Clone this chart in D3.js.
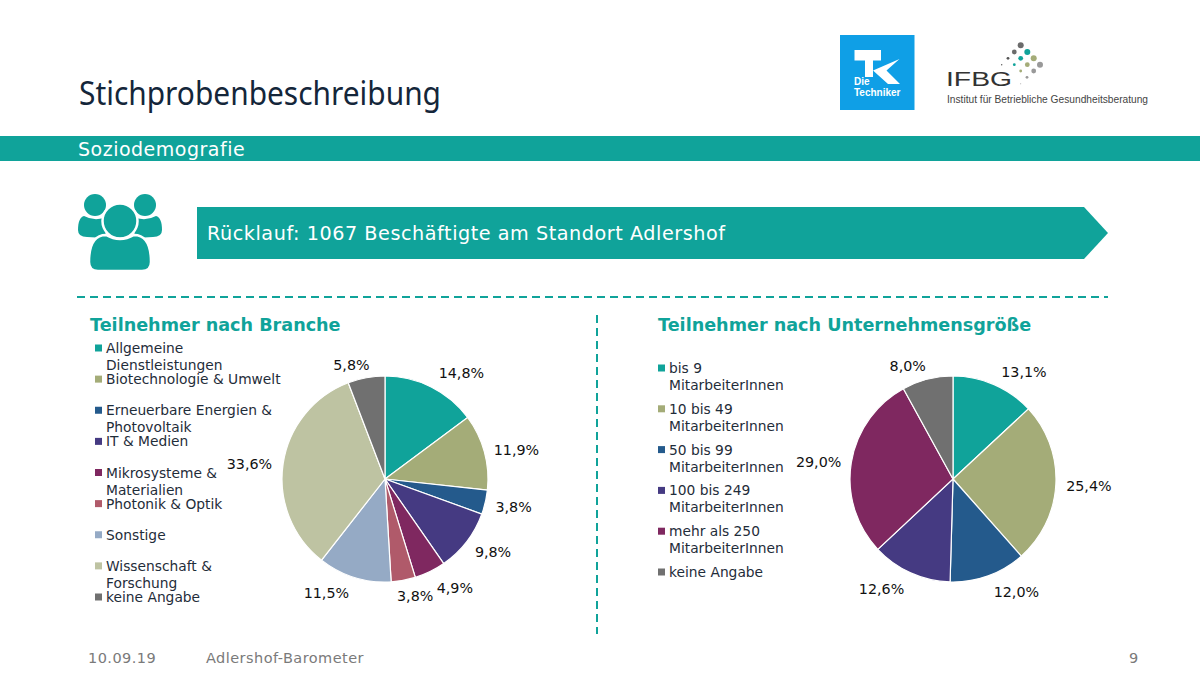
<!DOCTYPE html>
<html lang="de">
<head>
<meta charset="utf-8">
<title>Stichprobenbeschreibung</title>
<script src="https://cdn.jsdelivr.net/npm/d3@7"></script>
<style>
	body { margin: 0; background: #fff; }
	svg { display: block; }
	text { font-family: "DejaVu Sans", sans-serif; }
</style>
</head>
<body>
<div id="slide"></div>
<script>
// Left pie: Teilnehmer nach Branche
const branche_names = [
	["Allgemeine", "Dienstleistungen"],
	["Biotechnologie & Umwelt"],
	["Erneuerbare Energien &", "Photovoltaik"],
	["IT & Medien"],
	["Mikrosysteme &", "Materialien"],
	["Photonik & Optik"],
	["Sonstige"],
	["Wissenschaft &", "Forschung"],
	["keine Angabe"]
];
const branche_values = [14.8, 11.9, 3.8, 9.8, 4.9, 3.8, 11.5, 33.6, 5.8];

// Right pie: Teilnehmer nach Unternehmensgröße
const groesse_names = [
	["bis 9", "MitarbeiterInnen"],
	["10 bis 49", "MitarbeiterInnen"],
	["50 bis 99", "MitarbeiterInnen"],
	["100 bis 249", "MitarbeiterInnen"],
	["mehr als 250", "MitarbeiterInnen"],
	["keine Angabe"]
];
const groesse_values = [13.1, 25.4, 12.0, 12.6, 29.0, 8.0];

const branche_colors = ["#10a39a", "#a4ac78", "#245a8c", "#453a82", "#7f2860", "#b05a6a", "#95aac5", "#bec3a2", "#707070"];
const groesse_colors = ["#10a39a", "#a4ac78", "#245a8c", "#453a82", "#7f2860", "#707070"];

// hand placed labels in the slide, offset from the outer label ring
const branche_nudge = [[18, 10], [6, 5], [2, -2], [5, -6], [13, -8], [7, -11], [-20, -10], [-7, 4], [-10, 14]];
const groesse_nudge = [[19, 12], [6, 1], [19, -9], [-18, -9], [-6, 3], [-13, 13]];

const canvas_width = 1200;
const canvas_height = 700;
const teal = "#10a39a";
const text_color = "#1f2d3a";
const pie_radius = 103;
const label_radius = 130;

const slide = d3.select("#slide").append("svg")
	.attr("width", canvas_width)
	.attr("height", canvas_height)
	.attr("viewBox", `0 0 ${canvas_width} ${canvas_height}`);

// header
slide.append("text")
	.attr("x", 79)
	.attr("y", 104.5)
	.attr("font-size", 32)
	.attr("fill", "#14263a")
	.attr("textLength", 362)
	.attr("lengthAdjust", "spacingAndGlyphs")
	.style("font-family", "Noto Sans")
	.text("Stichprobenbeschreibung");

slide.append("rect")
	.attr("x", 0)
	.attr("y", 136)
	.attr("width", canvas_width)
	.attr("height", 25)
	.attr("fill", teal);

slide.append("text")
	.attr("x", 78)
	.attr("y", 156)
	.attr("font-size", 19)
	.attr("letter-spacing", 0.5)
	.attr("fill", "#fff")
	.text("Soziodemografie");

// TK logo
const tk_logo = slide.append("g");
tk_logo.append("rect")
	.attr("x", 840)
	.attr("y", 35)
	.attr("width", 74.5)
	.attr("height", 75)
	.attr("fill", "#0f9fe6");
tk_logo.append("path")
	.attr("fill", "#fff")
	.attr("d", "M854.5 50 H881 V60.5 H873 V77 H865 V60.5 H854.5 Z");
tk_logo.append("path")
	.attr("fill", "#fff")
	.attr("d", "M873 70.5 L899.5 59 L886.5 70.5 L900 84 H888 Z");
tk_logo.selectAll("text")
	.data(["Die", "Techniker"])
	.join("text")
	.attr("x", 854)
	.attr("y", (d, i) => 85 + i * 10.5)
	.attr("font-size", 10)
	.attr("fill", "#fff")
	.style("font-family", "Liberation Sans")
	.style("font-weight", 600)
	.text(d => d);

// IFBG logo
const ifbg_dots = [
	[1020.7, 45.3, 3, "#6b6b6b"], [1014.3, 52, 2.4, "#6b6b6b"], [1027.3, 52, 3, teal],
	[1008, 58.3, 1.4, "#555"], [1020.7, 58.3, 2.4, teal], [1033.7, 58.3, 3, "#a4ac78"],
	[1001.7, 64.7, 0.7, "#555"], [1014.3, 64.7, 1.4, teal], [1027.3, 64.7, 2.4, "#a4ac78"], [1040, 64.7, 3, "#999"],
	[1020.7, 71, 1.4, "#a4ac78"], [1033.7, 71, 2.4, "#999"],
	[1027, 77.3, 1.4, "#999"], [1020.7, 83.7, 0.5, "#999"]
];
slide.append("g").selectAll("circle")
	.data(ifbg_dots)
	.join("circle")
	.attr("cx", d => d[0])
	.attr("cy", d => d[1])
	.attr("r", d => d[2])
	.attr("fill", d => d[3]);
slide.append("text")
	.attr("x", 946)
	.attr("y", 86)
	.attr("font-size", 20)
	.attr("textLength", 66)
	.attr("lengthAdjust", "spacingAndGlyphs")
	.attr("fill", "#333")
	.style("font-family", "Liberation Sans")
	.text("IFBG");
slide.append("text")
	.attr("x", 947)
	.attr("y", 103)
	.attr("font-size", 10.2)
	.attr("fill", "#444")
	.style("font-family", "Liberation Sans")
	.text("Institut für Betriebliche Gesundheitsberatung");

// people icon
const people = slide.append("g").attr("fill", teal);
people.append("circle").attr("cx", 95).attr("cy", 205).attr("r", 11);
people.append("circle").attr("cx", 145).attr("cy", 205).attr("r", 11);
people.append("path").attr("d", "M84 216 Q93 221 104 218 L106 238 L87 237 Q78 237 78 230 C78 222 80 217 84 216 Z");
people.append("path").attr("d", "M156 216 Q147 221 136 218 L134 238 L153 237 Q162 237 162 230 C162 222 160 217 156 216 Z");
people.append("circle")
	.attr("cx", 120)
	.attr("cy", 221)
	.attr("r", 17.5)
	.attr("stroke", "#fff")
	.attr("stroke-width", 2.5);
people.append("path")
	.attr("stroke", "#fff")
	.attr("stroke-width", 2.5)
	.attr("d", "M98 271 Q89 271 89 262 C89 245 94 235 106 235 Q120 243 134 235 C146 235 151 245 151 262 Q151 271 142 271 Z");

// arrow banner
slide.append("path")
	.attr("fill", teal)
	.attr("d", "M197 207 H1084 L1108 233 L1084 259 H197 Z");
slide.append("text")
	.attr("x", 207)
	.attr("y", 240)
	.attr("font-size", 19.2)
	.attr("letter-spacing", 0.55)
	.attr("fill", "#fff")
	.text("Rücklauf: 1067 Beschäftigte am Standort Adlershof");

// dashed dividers
slide.append("line")
	.attr("x1", 77).attr("x2", 1108)
	.attr("y1", 297).attr("y2", 297)
	.attr("stroke", teal)
	.attr("stroke-width", 2)
	.attr("stroke-dasharray", "8 5");
slide.append("line")
	.attr("x1", 597).attr("x2", 597)
	.attr("y1", 315).attr("y2", 634)
	.attr("stroke", teal)
	.attr("stroke-width", 2)
	.attr("stroke-dasharray", "8 5");

function draw_panel(opts) {
	const color = d3.scaleOrdinal().domain(d3.range(opts.values.length)).range(opts.colors);

	slide.append("text")
		.attr("x", opts.title_x)
		.attr("y", 331)
		.attr("font-size", 17.6)
		.attr("font-weight", "bold")
		.attr("fill", teal)
		.text(opts.title);

	// legend
	const row_y = d3.scaleLinear()
		.domain([0, opts.names.length - 1])
		.range(opts.legend_range);
	const rows = slide.append("g").selectAll("g")
		.data(opts.names)
		.join("g")
		.attr("transform", (d, i) => `translate(${opts.legend_x},${row_y(i)})`);
	rows.append("rect")
		.attr("x", 0)
		.attr("y", -3.5)
		.attr("width", 7)
		.attr("height", 7)
		.attr("fill", (d, i) => color(i));
	rows.selectAll("text")
		.data(d => d)
		.join("text")
		.attr("x", 11)
		.attr("y", (d, i) => 5 + i * 17)
		.attr("font-size", 13.8)
		.attr("fill", text_color)
		.text(d => d);

	// pie
	const pie = d3.pie().sort(null)(opts.values);
	const arc = d3.arc().innerRadius(0).outerRadius(pie_radius);
	const label_arc = d3.arc().innerRadius(label_radius).outerRadius(label_radius);
	const chart = slide.append("g")
		.attr("transform", `translate(${opts.cx},${opts.cy})`);
	chart.selectAll("path")
		.data(pie)
		.join("path")
		.attr("d", arc)
		.attr("fill", (d, i) => color(i))
		.attr("stroke", "#fff")
		.attr("stroke-width", 1.2);
	chart.selectAll("text")
		.data(pie)
		.join("text")
		.attr("transform", (d, i) => {
			const [x, y] = label_arc.centroid(d);
			return `translate(${x + opts.nudge[i][0]},${y + opts.nudge[i][1]})`;
		})
		.attr("text-anchor", "middle")
		.attr("dy", "0.36em")
		.attr("font-size", 14.3)
		.attr("fill", "#111")
		.text(d => d3.format(".1f")(d.data).replace(".", ",") + "%");
}

draw_panel({
	title: "Teilnehmer nach Branche",
	title_x: 90,
	names: branche_names,
	values: branche_values,
	colors: branche_colors,
	nudge: branche_nudge,
	legend_x: 95,
	legend_range: [348, 597],
	cx: 385,
	cy: 479
});

draw_panel({
	title: "Teilnehmer nach Unternehmensgröße",
	title_x: 658,
	names: groesse_names,
	values: groesse_values,
	colors: groesse_colors,
	nudge: groesse_nudge,
	legend_x: 658,
	legend_range: [368, 572],
	cx: 953,
	cy: 479
});

// footer
slide.append("g").selectAll("text")
	.data([[88, "10.09.19"], [206, "Adlershof-Barometer"], [1129, "9"]])
	.join("text")
	.attr("x", d => d[0])
	.attr("y", 663)
	.attr("font-size", 14.5)
	.attr("letter-spacing", 0.45)
	.attr("fill", "#7a7a7a")
	.text(d => d[1]);
</script>
</body>
</html>
